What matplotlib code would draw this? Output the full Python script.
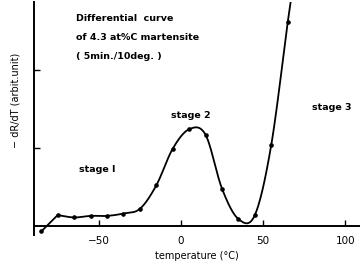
import numpy as np
import matplotlib.pyplot as plt

# measured points (temperature in deg C, -dR/dT in arbitrary units)
temp = [-85, -75, -65, -55, -45, -35, -25, -15, -5, 5, 15, 25, 35, 45, 55, 65]
dRdT = [-0.07, 0.14, 0.11, 0.13, 0.13, 0.16, 0.22, 0.52, 0.99, 1.24, 1.17, 0.48, 0.09, 0.14, 1.04, 2.61]
# the drawn curve runs on past the last point, off the top of the frame
curve_end = (68.5, 3.1)

x_ticks = [-50, 0, 50, 100]
stages = ['stage I', 'stage 2', 'stage 3']


def catmull_rom(xs, ys, n=25):
    P = np.column_stack([xs, ys]).astype(float)
    P = np.vstack([2 * P[0] - P[1], P, 2 * P[-1] - P[-2]])
    t = np.linspace(0, 1, n)[:, None]
    out = []
    for i in range(1, len(P) - 2):
        p0, p1, p2, p3 = P[i - 1], P[i], P[i + 1], P[i + 2]
        seg = 0.5 * (2 * p1 + (-p0 + p2) * t + (2 * p0 - 5 * p1 + 4 * p2 - p3) * t ** 2
                     + (-p0 + 3 * p1 - 3 * p2 + p3) * t ** 3)
        out.append(seg)
    return np.vstack(out)


fig = plt.figure(figsize=(3.6, 2.63), dpi=100)
ax = fig.add_axes([0.094, 0.105, 0.906, 0.887])

# first segment is a straight line, the rest a smooth curve
ax.plot(temp[:2], dRdT[:2], color='black', lw=1.3)
smooth = catmull_rom(temp[1:] + [curve_end[0]], dRdT[1:] + [curve_end[1]])
ax.plot(smooth[:, 0], smooth[:, 1], color='black', lw=1.3)
ax.plot(temp, dRdT, 'o', color='black', ms=2.3)

ax.set_xlim(-89.5, 109)
ax.set_ylim(-0.12, 2.87)
ax.spines['top'].set_visible(False)
ax.spines['right'].set_visible(False)
ax.spines['bottom'].set_position(('data', 0))
ax.spines['left'].set_linewidth(1.4)
ax.spines['bottom'].set_linewidth(1.4)
ax.set_xticks(x_ticks)
ax.set_xticklabels(['\u221250', '0', '50', '100'])
ax.set_yticks([1, 2])
ax.set_yticklabels([])
ax.tick_params(direction='in', length=4, width=1, labelsize=7.5, pad=7)

ax.set_xlabel('temperature (°C)', fontsize=7, labelpad=4)
ax.set_ylabel('\u2212 dR/dT (arbit.unit)', fontsize=7)
ax.yaxis.set_label_coords(-0.04, 0.58)

tk = dict(fontsize=6.8, fontweight='bold', color='black')
ax.text(-64, 2.66, 'Differential  curve', ha='left', va='center', **tk)
ax.text(-64, 2.41, 'of 4.3 at%C martensite', ha='left', va='center', **tk)
ax.text(-64, 2.17, '( 5min./10deg. )', ha='left', va='center', **tk)
ax.text(-62, 0.72, stages[0], ha='left', va='center', **tk)
ax.text(6, 1.42, stages[1], ha='center', va='center', **tk)
ax.text(92, 1.52, stages[2], ha='center', va='center', **tk)

fig.savefig('out.png', dpi=100)
